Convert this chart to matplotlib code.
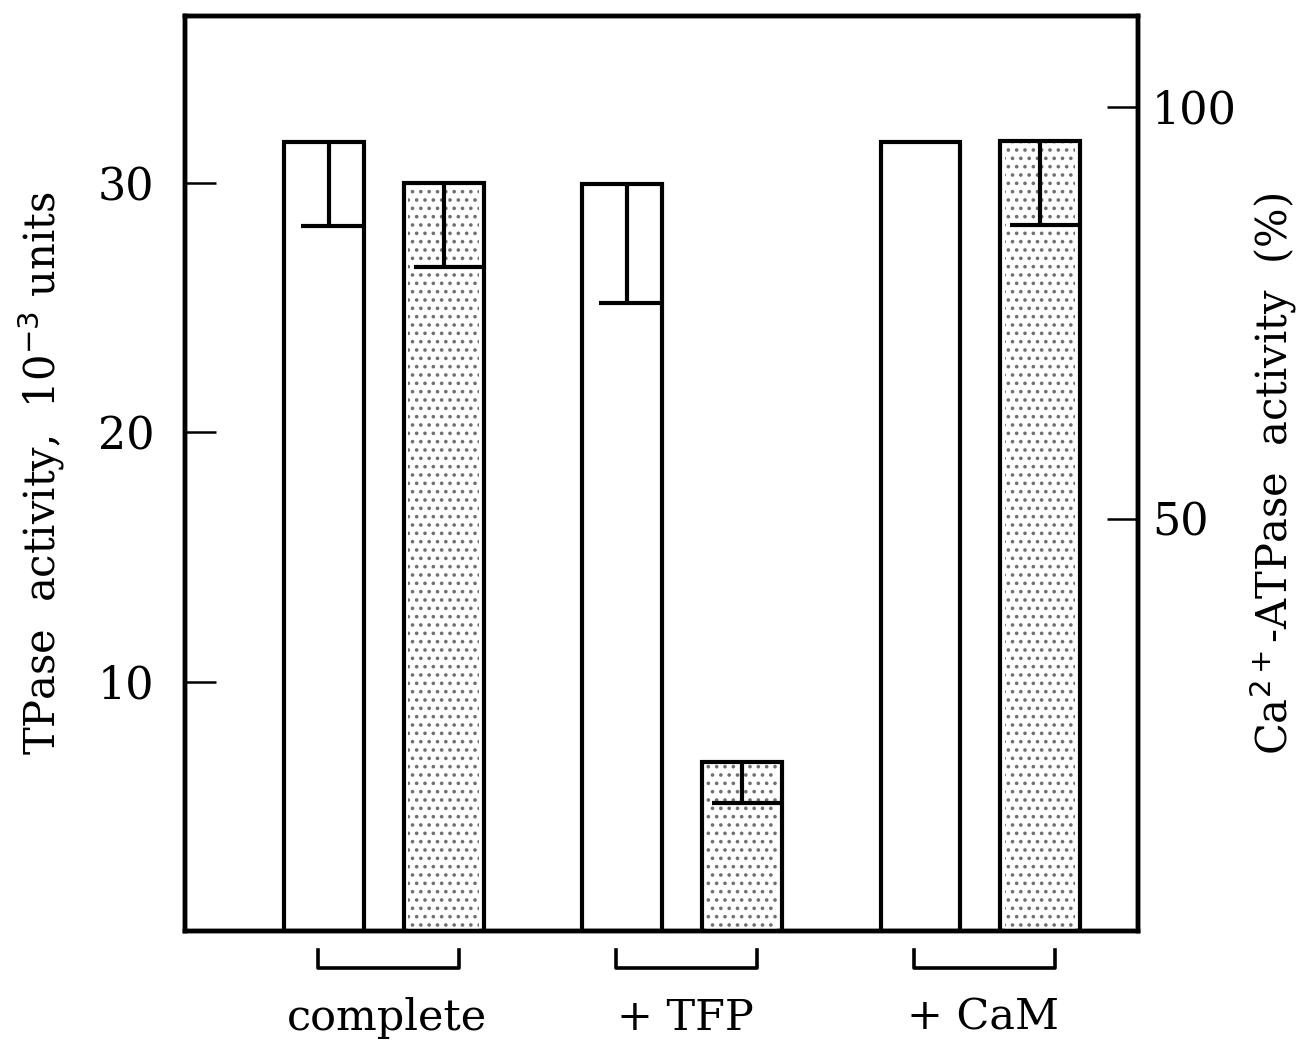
import numpy as np
import matplotlib
matplotlib.use("Agg")
import matplotlib.pyplot as plt

# data
groups = ["complete", "+ TFP", "+ CaM"]
tpase = [31.65, 29.96, 31.65]          # 10^-3 units (open bars, left axis)
tpase_low = [28.28, 25.19, None]       # lower end of error bar
atpase = [90.7, 20.5, 95.8]            # % (stippled bars, right axis)
atpase_low = [80.5, 15.5, 85.6]

plt.rcParams['font.family'] = ['DejaVu Serif']
plt.rcParams['hatch.linewidth'] = 1.4

fig = plt.figure(figsize=(12.97, 10.45), dpi=100)
ax = fig.add_axes([0.1426, 0.1091, 0.7348, 0.8756])
ax2 = ax.twinx()

x = np.arange(len(groups))
off = 0.2
w = 0.268
lw = 3.0

ax.set_xlim(-0.668, 2.530)
ax.set_ylim(0, 36.7)
ax2.set_ylim(0, 111.0)

# open bars
ax.bar(x - off, tpase, width=w, facecolor="white", edgecolor="black", linewidth=lw, zorder=2)
for xi, top, low in zip(x - off, tpase, tpase_low):
    if low is None:
        continue
    ax.vlines(xi + 0.015, low, top, color="black", linewidth=lw, zorder=3)
    ax.hlines(low, xi - 0.08, xi + w / 2, color="black", linewidth=lw, zorder=3)

# stippled bars
ax2.bar(x + off, atpase, width=w * 0.88, facecolor="white", edgecolor="#707070",
        hatch="..", linewidth=0, zorder=2)
ax2.bar(x + off, atpase, width=w, facecolor="none", edgecolor="black", linewidth=lw, zorder=3)
for xi, top, low in zip(x + off, atpase, atpase_low):
    ax2.vlines(xi, low, top, color="black", linewidth=lw, zorder=4)
    ax2.hlines(low, xi - 0.1, xi + w / 2, color="black", linewidth=lw, zorder=4)

for a in (ax, ax2):
    for s in a.spines.values():
        s.set_linewidth(3.2)

ax.set_xticks([])
ax.set_yticks([10, 20, 30])
ax.tick_params(axis="y", direction="in", length=22, width=1.8, labelsize=32, pad=22)
ax2.set_yticks([50, 100])
ax2.tick_params(axis="y", direction="in", length=22, width=1.8, labelsize=32, pad=10)

ax.set_ylabel(r"TPase  activity,  10$^{-3}$ units", fontsize=30, labelpad=22)
ax2.set_ylabel(r"Ca$^{2+}$-ATPase  activity  (%)", fontsize=30, labelpad=8)

# group brackets and labels under the axis
trans = ax.get_xaxis_transform()
for xi, name in zip(x, groups):
    xl, xr = xi - 0.22, xi + 0.25
    ax.plot([xl, xl, xr, xr], [-0.021, -0.040, -0.040, -0.021], color="black",
            linewidth=2.6, transform=trans, clip_on=False)
    ax.text(xi + 0.01, -0.095, name, transform=trans, ha="center", va="center",
            fontsize=31)

fig.savefig("out.png", dpi=100)
